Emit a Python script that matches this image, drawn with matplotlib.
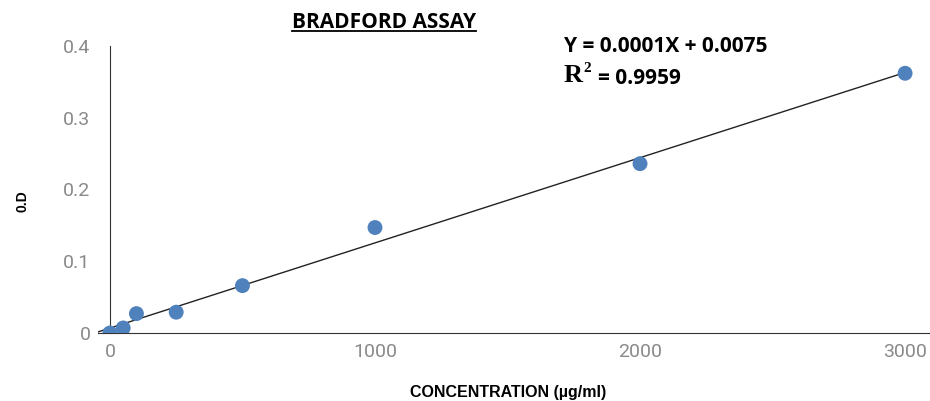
import numpy as np
import matplotlib
matplotlib.use("Agg")
import matplotlib.pyplot as plt

conc = [0, 50, 100, 250, 500, 1000, 2000, 3000]
od = [0.0, 0.007, 0.027, 0.029, 0.066, 0.147, 0.236, 0.362]
x_ticks = [0, 1000, 2000, 3000]
y_ticks = [0, 0.1, 0.2, 0.3, 0.4]
y_tick_labels = ["0", "0.1", "0.2", "0.3", "0.4"]

fig = plt.figure(figsize=(9.3, 4.01), dpi=100)
ax = fig.add_axes([98/930, 68/401, 832/930, 287/401])
ax.set_xlim(-45, 3094)
ax.set_ylim(0, 0.4)

slope, intercept = np.polyfit(conc, od, 1)
xl = np.array([-45, 3000])
ax.plot(xl, slope*xl + intercept, color="#222222", lw=1.0, zorder=2)
ax.scatter(conc, od, s=115, color="#4f81bd", edgecolors="none", zorder=3)

for s in ["top", "right"]:
    ax.spines[s].set_visible(False)
ax.spines["left"].set_position(("data", 0))
ax.spines["left"].set_color("#333333")
ax.spines["bottom"].set_color("#333333")
ax.tick_params(length=0, labelsize=14, labelcolor="#8a8a8a")
ax.set_xticks(x_ticks)
ax.set_xticklabels([str(v) for v in x_ticks], fontfamily="Roboto")
ax.set_yticks(y_ticks)
ax.set_yticklabels(y_tick_labels, fontfamily="Roboto")
ax.yaxis.set_tick_params(pad=14)
ax.xaxis.set_tick_params(pad=7)

fig.text(508/930, 1-392/401, "CONCENTRATION (µg/ml)", ha="center", va="center",
         fontsize=11.5, fontweight="bold", family="Liberation Sans")
fig.text(22/930, 1-201/401, "0.D", ha="center", va="center", rotation=90,
         fontsize=10, fontweight="bold", family="Liberation Sans")

t = fig.text(384/930, 1-23/401, "BRADFORD ASSAY", ha="center", va="center",
             fontsize=15, fontweight="bold", family="Open Sans")
fig.canvas.draw()
bb = t.get_window_extent().transformed(fig.transFigure.inverted())
fig.add_artist(plt.Line2D([bb.x0, bb.x1], [bb.y0 + 0.006, bb.y0 + 0.006],
                          transform=fig.transFigure, color="black", lw=1.3))

fig.text(564/930, 1-47/401, "Y = 0.0001X + 0.0075", ha="left", va="center",
         fontsize=15, fontweight="bold", family="Open Sans")
r = fig.text(564/930, 1-76/401, "R", ha="left", va="center",
             fontsize=19, fontweight="bold", family="Liberation Serif")
fig.canvas.draw()
rb = r.get_window_extent().transformed(fig.transFigure.inverted())
fig.text(rb.x1 + 0.0005, 1-69/401, "2", ha="left", va="center",
         fontsize=11, fontweight="bold", family="Liberation Serif")
fig.text(rb.x1 + 0.016, 1-78/401, "= 0.9959", ha="left", va="center",
         fontsize=15, fontweight="bold", family="Open Sans")

fig.savefig("out.png", dpi=100)
